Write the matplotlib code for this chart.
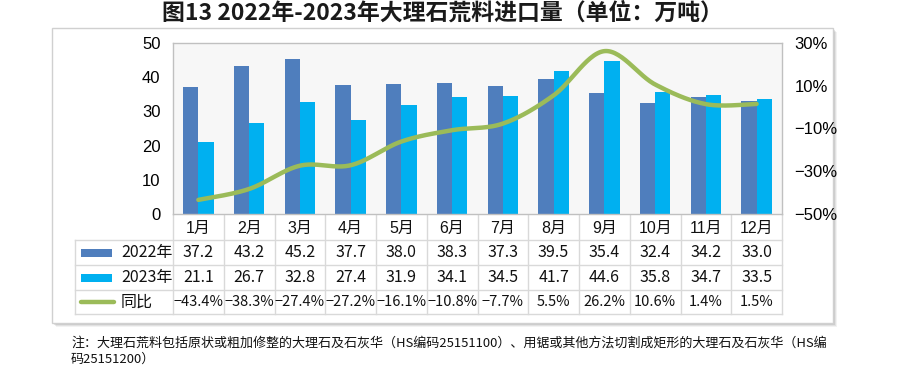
import numpy as np
import matplotlib
matplotlib.use("Agg")
import matplotlib.pyplot as plt
from matplotlib.patches import Rectangle

plt.rcParams['font.family'] = ['Liberation Sans', 'Noto Sans CJK SC', 'DejaVu Sans']

# ---------------- data ----------------
months = ["1月", "2月", "3月", "4月", "5月", "6月", "7月", "8月", "9月", "10月", "11月", "12月"]
imp_2022 = [37.2, 43.2, 45.2, 37.7, 38.0, 38.3, 37.3, 39.5, 35.4, 32.4, 34.2, 33.0]
imp_2023 = [21.1, 26.7, 32.8, 27.4, 31.9, 34.1, 34.5, 41.7, 44.6, 35.8, 34.7, 33.5]
yoy = [-43.4, -38.3, -27.4, -27.2, -16.1, -10.8, -7.7, 5.5, 26.2, 10.6, 1.4, 1.5]
series_names = ["2022年", "2023年", "同比"]
left_ticks = [0, 10, 20, 30, 40, 50]
right_ticks = [-50, -30, -10, 10, 30]
title = "图13 2022年-2023年大理石荒料进口量（单位：万吨）"
note_lines = ["注：大理石荒料包括原状或粗加修整的大理石及石灰华（HS编码25151100）、用锯或其他方法切割成矩形的大理石及石灰华（HS编",
              "码25151200）"]

# ---------------- styles ----------------
C22 = "#4F7EBD"
C23 = "#00B0F0"
CL = "#9BBB59"
GRID = "#D9D9D9"
W, H = 900, 368
PL, PR, PT, PB = 173, 782, 43, 214   # plot area in pixels

fig = plt.figure(figsize=(9, 3.68), dpi=100)
fig.patch.set_facecolor("white")

bg = fig.add_axes([0, 0, 1, 1], zorder=-10)
bg.set_xlim(0, W)
bg.set_ylim(H, 0)
bg.axis("off")

# card with shadow
for i, a in enumerate([0.10, 0.14, 0.20, 0.28]):
    off = 4 - i
    bg.add_patch(Rectangle((52 + off, 28 + off), 781, 295, facecolor="#808080",
                           edgecolor="none", alpha=a))
bg.add_patch(Rectangle((52, 28), 781, 295, facecolor="white", edgecolor="#D0D0D0", lw=1))

# title
bg.text(442, 13, title, ha="center", va="center", fontsize=16.5, fontweight="bold",
        family=["Noto Sans CJK SC", "DejaVu Sans"], color="#1a1a1a")

# main axes
ax = fig.add_axes([PL / W, 1 - PB / H, (PR - PL) / W, (PB - PT) / H], zorder=1)
ax.set_facecolor("#F7F7F7")
x = np.arange(len(months))
bw = 0.3
ax.bar(x - bw / 2, imp_2022, bw, color=C22, zorder=2)
ax.bar(x + bw / 2, imp_2023, bw, color=C23, zorder=2)
ax.set_xlim(-0.5, len(months) - 0.5)
ax.set_ylim(0, 50)
ax.set_yticks(left_ticks)
ax.set_yticklabels([str(t) for t in left_ticks], fontsize=12)
ax.set_xticks([])
ax.tick_params(axis="y", length=0, pad=9)
for s in ax.spines.values():
    s.set_color("#C0C0C0")
    s.set_linewidth(1)

ax2 = ax.twinx()
ax2.set_ylim(-50, 30)
ax2.set_yticks(right_ticks)
ax2.set_yticklabels([("−" if t < 0 else "") + f"{abs(t)}%" for t in right_ticks], fontsize=12)
ax2.tick_params(axis="y", length=0, pad=9)
for s in ax2.spines.values():
    s.set_visible(False)

# smoothed (Catmull-Rom / Bezier) line like Excel
def smooth(xs, ys, n=30):
    xs = np.asarray(xs, float); ys = np.asarray(ys, float)
    P = np.column_stack([xs, ys])
    P = np.vstack([P[0], P, P[-1]])
    out = []
    for i in range(1, len(P) - 2):
        p0, p1, p2, p3 = P[i - 1], P[i], P[i + 1], P[i + 2]
        c1 = p1 + (p2 - p0) / 6
        c2 = p2 - (p3 - p1) / 6
        t = np.linspace(0, 1, n)[:, None]
        seg = ((1 - t) ** 3) * p1 + 3 * ((1 - t) ** 2) * t * c1 + 3 * (1 - t) * t ** 2 * c2 + t ** 3 * p2
        out.append(seg if i == 1 else seg[1:])
    out = np.vstack(out)
    return out[:, 0], out[:, 1]

sx, sy = smooth(x, yoy)
ax2.plot(sx, sy, color=CL, lw=3.2, solid_capstyle="round", zorder=3)

# ---------------- data table ----------------
cw = (PR - PL) / len(months)
rows_y = [PB, 240, 265, 290, 314]
TL = 75
for yy in rows_y[1:]:
    bg.plot([TL, PR], [yy, yy], color=GRID, lw=1)
for i in range(len(months) + 1):
    xx = PL + i * cw
    bg.plot([xx, xx], [PB, rows_y[-1]], color=GRID, lw=1)
bg.plot([TL, TL], [rows_y[1], rows_y[-1]], color=GRID, lw=1)

tfam = ["Noto Sans CJK SC", "DejaVu Sans"]
for i, m in enumerate(months):
    bg.text(PL + (i + 0.5) * cw, (rows_y[0] + rows_y[1]) / 2 + 1, m, ha="center", va="center",
            fontsize=11.5, color="#111111")
ymid = [(rows_y[k] + rows_y[k + 1]) / 2 for k in range(1, 4)]
bg.add_patch(Rectangle((81, ymid[0] - 4), 31, 8, facecolor=C22, edgecolor="none"))
bg.add_patch(Rectangle((81, ymid[1] - 4), 31, 8, facecolor=C23, edgecolor="none"))
bg.plot([81, 114], [ymid[2], ymid[2]], color=CL, lw=3.2, solid_capstyle="round")
for k, name in enumerate(series_names):
    bg.text(121, ymid[k], name, ha="left", va="center", fontsize=11.5, family=tfam, color="#111111")

def fmt_pct(v):
    return ("−" if v < 0 else "") + f"{abs(v):.1f}%"

for i in range(len(months)):
    cx = PL + (i + 0.5) * cw
    bg.text(cx, ymid[0], f"{imp_2022[i]:.1f}", ha="center", va="center", fontsize=11.5, family=tfam, color="#111111")
    bg.text(cx, ymid[1], f"{imp_2023[i]:.1f}", ha="center", va="center", fontsize=11.5, family=tfam, color="#111111")
    bg.text(cx, ymid[2], fmt_pct(yoy[i]), ha="center", va="center", fontsize=10.5, family=tfam, color="#111111")

# footnote
bg.text(71, 343, note_lines[0], ha="left", va="center", fontsize=9.4, family=tfam, color="#111111")
bg.text(71, 359, note_lines[1], ha="left", va="center", fontsize=9.4, family=tfam, color="#111111")

fig.savefig("out.png", dpi=100)
